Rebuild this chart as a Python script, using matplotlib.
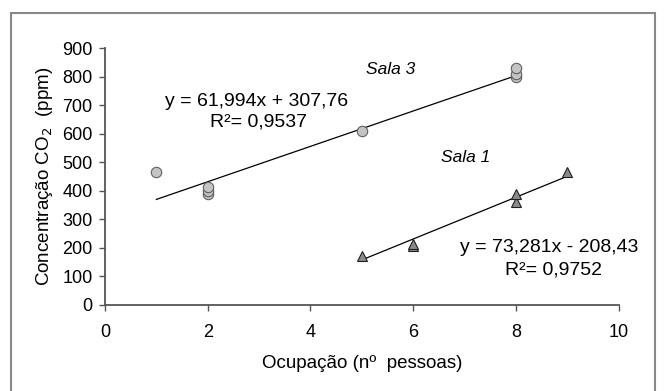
import numpy as np
from matplotlib import pyplot as plt
from matplotlib.patches import Rectangle

# dados
sala3_x = [1, 2, 2, 2, 5, 8, 8, 8]
sala3_y = [465, 390, 400, 412, 608, 800, 810, 830]
sala1_x = [5, 6, 6, 8, 8, 9]
sala1_y = [170, 205, 215, 360, 390, 465]

# coeficientes das retas de ajuste (do proprio grafico)
coef3 = [61.994, 307.76]
coef1 = [73.281, -208.43]

plt.rcParams['font.family'] = ['Liberation Sans', 'DejaVu Sans']

fig = plt.figure(figsize=(6.64, 3.91), dpi=100)
ax = fig.add_axes([0.158, 0.22, 0.774, 0.657])

# moldura da figura
fig.patches.append(Rectangle((0.016, -0.05), 0.971, 1.017, transform=fig.transFigure,
                             fill=False, edgecolor='#888888', linewidth=1.5))

x3 = np.array([min(sala3_x), max(sala3_x)])
x1 = np.array([min(sala1_x), max(sala1_x)])
ax.plot(x3, np.polyval(coef3, x3), color='k', linewidth=0.9, zorder=2)
ax.plot(x1, np.polyval(coef1, x1), color='k', linewidth=0.9, zorder=2)

ax.plot(sala3_x, sala3_y, 'o', color='#c4c4c4', markeredgecolor='#606060',
        markeredgewidth=0.8, markersize=7.5, zorder=3)
ax.plot(sala1_x, sala1_y, '^', color='#8a8a8a', markeredgecolor='#202020',
        markeredgewidth=0.8, markersize=6.5, zorder=3)

ax.text(5.55, 826, 'Sala 3', style='italic', fontsize=12.5, ha='center', va='center')
ax.text(7.02, 515, 'Sala 1', style='italic', fontsize=12.5, ha='center', va='center')
ax.text(2.96, 714, 'y = 61,994x + 307,76', fontsize=14, ha='center', va='center')
ax.text(2.99, 641, 'R²= 0,9537', fontsize=14, ha='center', va='center')
ax.text(8.65, 200, 'y = 73,281x - 208,43', fontsize=14, ha='center', va='center')
ax.text(8.72, 122, 'R²= 0,9752', fontsize=14, ha='center', va='center')

ax.set_xlim(0, 10)
ax.set_ylim(0, 900)
ax.set_xticks(range(0, 11, 2))
ax.set_yticks(range(0, 901, 100))
ax.tick_params(labelsize=13, length=4, width=1, color='#555555', pad=5)
ax.tick_params(axis='x', pad=10)

for s in ['top', 'right']:
    ax.spines[s].set_visible(False)
for s in ['left', 'bottom']:
    ax.spines[s].set_color('#555555')
    ax.spines[s].set_linewidth(1.3)

ax.set_xlabel('Ocupação (nº  pessoas)', fontsize=13.5, labelpad=10)
ax.set_ylabel('Concentração CO$_2$  (ppm)', fontsize=13.5, labelpad=5)

plt.savefig('out.png', dpi=100)
